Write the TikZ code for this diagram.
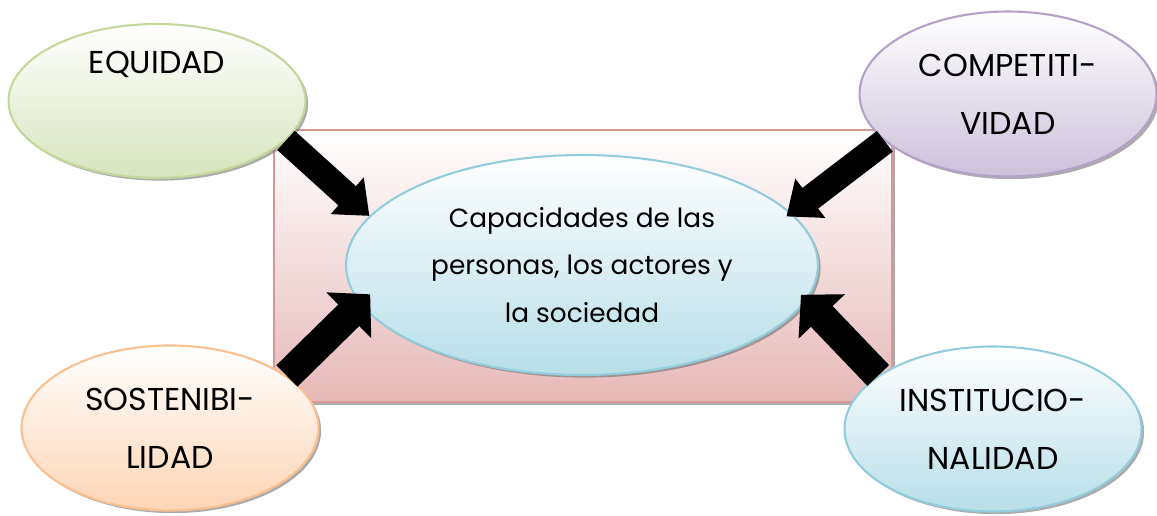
\documentclass[tikz,border=0pt]{standalone}
\usepackage{fontspec}
\setmainfont{Poppins}
\usetikzlibrary{shapes,shadows,arrows.meta}
\definecolor{eqline}{HTML}{C3D69B}
\definecolor{eqfill}{HTML}{D7E4BD}
\definecolor{coline}{HTML}{B3A2C7}
\definecolor{cofill}{HTML}{CCC1DA}
\definecolor{soline}{HTML}{FAC08F}
\definecolor{sofill}{HTML}{FCD5B5}
\definecolor{inline}{HTML}{93CDDD}
\definecolor{infill}{HTML}{B7DEE8}
\definecolor{boxline}{HTML}{D99694}
\definecolor{boxfill}{HTML}{E6B9B8}

\begin{document}
\begin{tikzpicture}[x=0.02cm,y=-0.02cm,
  bubble/.style={ellipse,line width=1.2pt,minimum width=5.94cm,minimum height=3.3cm,
    inner sep=0pt,align=center,font=\fontsize{18}{33}\selectfont,
    drop shadow={shadow xshift=1.5pt,shadow yshift=-1.5pt,fill=black!55,opacity=.6}},
  blk/.style={line width=0.52cm,-{Triangle[length=0.6cm,width=0.95cm]}},
  blkb/.style={line width=0.6cm,-{Triangle[length=0.6cm,width=1.25cm]}}]
\useasboundingbox (0,0) rectangle (1157,516);
% back panel
\node[rectangle,draw=boxline,line width=1.2pt,top color=white,bottom color=boxfill,
  minimum width=12.38cm,minimum height=5.44cm,
  drop shadow={shadow xshift=1.5pt,shadow yshift=-1.5pt,fill=black!55,opacity=.6}] (box) at (583,266) {};
% middle
\node[bubble,draw=inline,top color=white,bottom color=infill,
  minimum width=9.44cm,minimum height=4.4cm,font=\fontsize{15}{27}\selectfont] (cap) at (582,265)
  {Capacidades de las\\personas, los actores y\\la sociedad};
% four corners
\node[bubble,draw=eqline,top color=white,bottom color=eqfill,minimum height=3.08cm,text depth=1.56cm] (eq) at (157,101) {EQUIDAD};
\node[bubble,draw=coline,top color=white,bottom color=cofill] (co) at (1008,94) {COMPETITI-\\VIDAD};
\node[bubble,draw=soline,top color=white,bottom color=sofill] (so) at (170,428) {SOSTENIBI-\\LIDAD};
\node[bubble,draw=inline,top color=white,bottom color=infill] (ins) at (993,429) {INSTITUCIO-\\NALIDAD};
% arrows
\draw[blk] (eq.-17) -- (cap.167);
\draw[blk,shorten >=-0.12cm] (co.201) -- (cap.14);
\draw[blkb,shorten >=-0.28cm] (so.24) -- (cap.190);
\draw[blkb,shorten >=-0.16cm] (ins.155) -- (cap.-9);
\end{tikzpicture}
\end{document}
